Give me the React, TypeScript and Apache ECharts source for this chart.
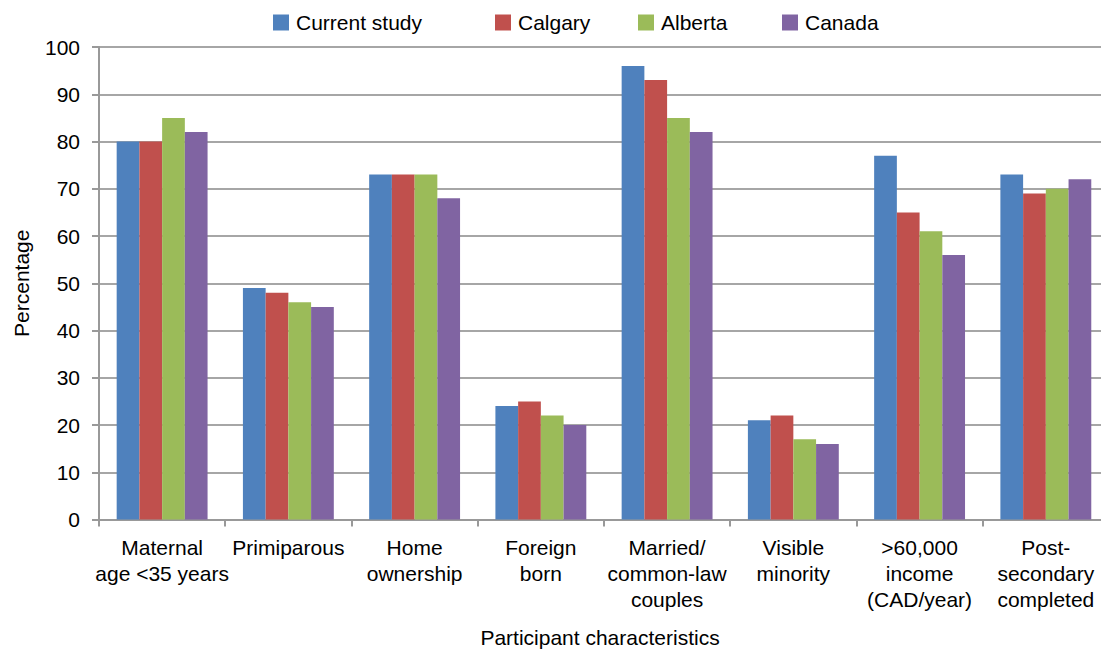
import React, { useEffect, useRef } from "react";
import * as echarts from "echarts";

const categories = [
  "Maternal\nage <35 years",
  "Primiparous",
  "Home\nownership",
  "Foreign\nborn",
  "Married/\ncommon-law\ncouples",
  "Visible\nminority",
  ">60,000\nincome\n(CAD/year)",
  "Post-\nsecondary\ncompleted",
];
const seriesNames = ["Current study", "Calgary", "Alberta", "Canada"];
const currentStudy = [80, 49, 73, 24, 96, 21, 77, 73];
const calgary = [80, 48, 73, 25, 93, 22, 65, 69];
const alberta = [85, 46, 73, 22, 85, 17, 61, 70];
const canada = [82, 45, 68, 20, 82, 16, 56, 72];
const colors = ["#4F81BD", "#C0504D", "#9BBB59", "#8064A2"];
const legendLefts = [273, 495, 638, 782];

export default function App() {
  const ref = useRef<HTMLDivElement>(null);
  useEffect(() => {
    document.body.style.margin = "0";
    const chart = echarts.init(ref.current!, null, { renderer: "svg" });
    const font = "'Liberation Sans', Arial, sans-serif";
    const data = [currentStudy, calgary, alberta, canada];
    const idx = categories.map((_, i) => i);
    const boundaries = categories.map((_, i) => i - 0.5);
    chart.setOption({
      animation: false,
      textStyle: { fontFamily: font },
      legend: seriesNames.map((n, i) => ({
        top: 12,
        left: legendLefts[i],
        itemWidth: 16,
        itemHeight: 16,
        itemGap: 0,
        padding: 0,
        icon: "rect",
        textStyle: { fontSize: 21, color: "#000", fontFamily: font, padding: [0, 0, 0, 2] },
        data: [n],
      })),
      grid: { left: 99, top: 47, width: 1002, height: 475 },
      xAxis: {
        type: "value",
        min: -0.5,
        max: 7.437,
        name: "Participant characteristics",
        nameLocation: "middle",
        nameGap: 108,
        nameTextStyle: { fontSize: 21, color: "#000", lineHeight: 20 },
        splitLine: { show: false },
        axisLine: { show: true, onZero: false, lineStyle: { color: "#999", width: 2 } },
        axisTick: { show: true, length: 7, customValues: boundaries, lineStyle: { color: "#999", width: 2 } },
        axisLabel: {
          fontSize: 21,
          color: "#000",
          lineHeight: 26,
          margin: 15,
          customValues: idx,
          formatter: (v: number) => categories[Math.round(v)] ?? "",
        },
      },
      yAxis: {
        type: "value",
        min: 0,
        max: 100,
        interval: 10,
        name: "Percentage",
        nameLocation: "middle",
        nameGap: 67,
        nameTextStyle: { fontSize: 21, color: "#000" },
        axisLine: { show: true, onZero: false, lineStyle: { color: "#999", width: 2 } },
        axisTick: { show: true, length: 7, lineStyle: { color: "#999", width: 2 } },
        axisLabel: { fontSize: 21, color: "#000", margin: 19 },
        splitLine: { lineStyle: { color: "#A6A6A6", width: 2 } },
      },
      series: seriesNames.map((n, i) => ({
        name: n,
        type: "bar",
        data: data[i].map((v, j) => [idx[j], v]),
        barGap: "0%",
        barCategoryGap: "28%",
        itemStyle: { color: colors[i] },
      })),
    });
    return () => chart.dispose();
  }, []);
  return <div ref={ref} style={{ width: 1101, height: 653, overflow: "hidden", position: "relative" }} />;
}
